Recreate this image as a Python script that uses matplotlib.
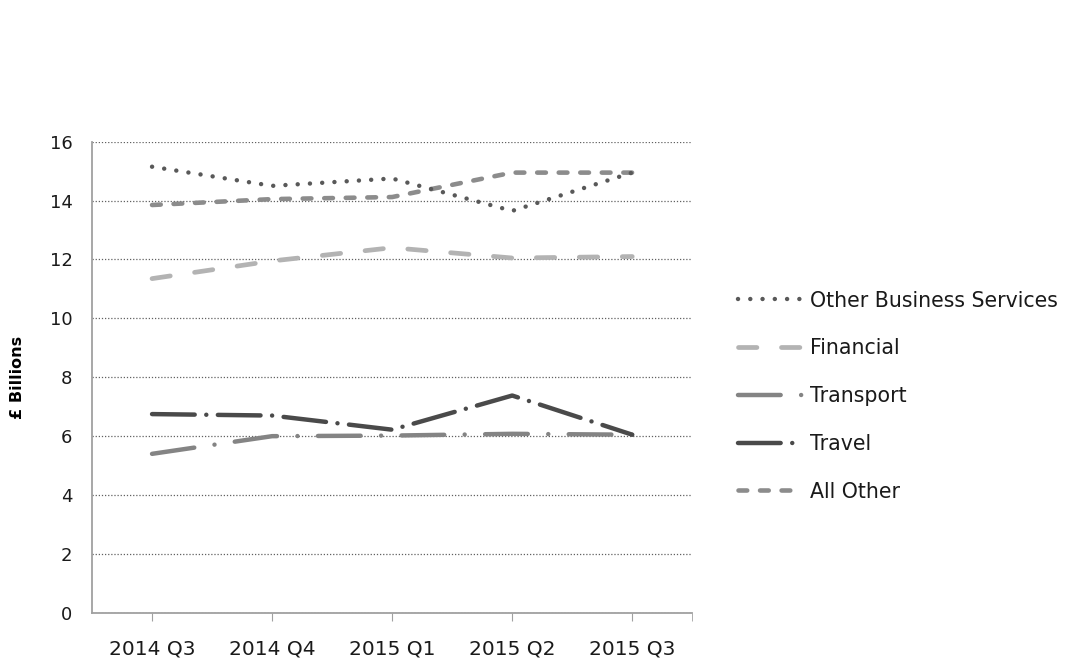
import numpy as np
import matplotlib.pyplot as plt

plt.rcParams['font.family'] = ['DejaVu Sans']

quarters = ["2014 Q3", "2014 Q4", "2015 Q1", "2015 Q2", "2015 Q3"]
other_business = [15.15, 14.5, 14.75, 13.65, 14.95]
financial = [11.35, 11.95, 12.4, 12.05, 12.1]
transport = [5.4, 6.0, 6.02, 6.08, 6.05]
travel = [6.75, 6.7, 6.22, 7.38, 6.05]
all_other = [13.85, 14.05, 14.12, 14.95, 14.95]

fig = plt.figure(figsize=(10.7, 6.59), dpi=100)
ax = fig.add_axes([0.086, 0.070, 0.561, 0.715])
x = np.arange(len(quarters))

ax.plot(x, other_business, color="#595959", lw=3.2, linestyle=(0, (0.01, 2.75)),
        dash_capstyle="round", label="Other Business Services", zorder=6)
ax.plot(x, financial, color="#b3b3b3", lw=3.4, linestyle=(0, (3.9, 5.2)),
        dash_capstyle="round", label="Financial", zorder=3)
ax.plot(x, transport, color="#848484", lw=3.2, linestyle=(0, (9.6, 4.6, 0.01, 4.6)),
        dash_capstyle="round", label="Transport", zorder=4)
ax.plot(x, travel, color="#4a4a4a", lw=3.2, linestyle=(0, (9.6, 2.6, 0.01, 2.6)),
        dash_capstyle="round", label="Travel", zorder=5)
ax.plot(x, all_other, color="#8c8c8c", lw=3.3, linestyle=(0, (1.9, 2.8)),
        dash_capstyle="round", label="All Other", zorder=4)

ax.set_xlim(-0.5, 4.5)
ax.set_ylim(0, 16)
ax.set_yticks(np.arange(0, 17, 2))
ax.set_xticks(x)
ax.set_xticklabels(quarters)
ax.set_xticks([4.5], minor=True)
ax.tick_params(axis="x", which="both", length=6, color="#a0a0a0", labelsize=14.5,
               pad=13, labelcolor="#1a1a1a")
ax.tick_params(axis="y", length=0, labelsize=13, pad=14, labelcolor="#1a1a1a")
ax.grid(axis="y", color="#606060", linestyle=(0, (1, 1.5)), lw=0.9)
ax.set_axisbelow(True)
for s in ["top", "right"]:
    ax.spines[s].set_visible(False)
ax.spines["left"].set_color("#a0a0a0")
ax.spines["bottom"].set_color("#a0a0a0")
ax.spines["left"].set_linewidth(1.3)
ax.spines["bottom"].set_linewidth(1.3)

ax.set_ylabel("£ Billions", fontsize=11.5, fontweight="bold", labelpad=18)

leg = fig.legend(loc="center left", bbox_to_anchor=(0.680, 0.399), frameon=False,
                 fontsize=14.8, handlelength=3.1, handletextpad=0.4, labelspacing=1.35,
                 borderpad=0)
for t in leg.get_texts():
    t.set_color("#1a1a1a")

fig.savefig("out.png", dpi=100, facecolor="white")
